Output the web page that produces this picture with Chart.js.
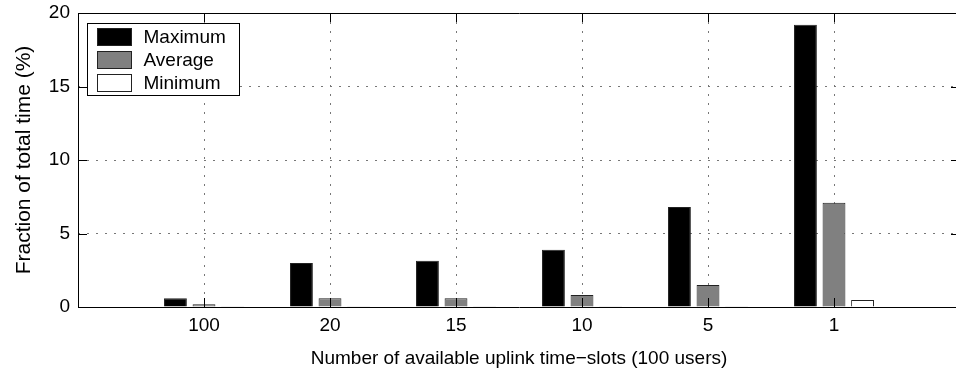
<!DOCTYPE html>
<html>
<head>
<meta charset="utf-8">
<script src="https://cdn.jsdelivr.net/npm/chart.js@4/dist/chart.umd.min.js"></script>
<style>
  html, body { margin: 0; padding: 0; background: #fff; overflow: hidden; }
  #wrap { width: 960px; height: 377px; }
</style>
</head>
<body>
<div id="wrap"><canvas id="slots" width="960" height="377"></canvas></div>
<script>
const slotCounts = ['100', '20', '15', '10', '5', '1'];
const maxShare = [0.6, 3.0, 3.15, 3.9, 6.8, 19.2];
const avgShare = [0.18, 0.6, 0.6, 0.82, 1.5, 7.1];
const minShare = [0.05, 0.05, 0.05, 0.05, 0.05, 0.48];
const seriesNames = ['Maximum', 'Average', 'Minimum'];
const yTicks = [0, 5, 10, 15, 20];

const FONT = '"Liberation Sans", Arial, Helvetica, sans-serif';

// empty slot on each side so the groups sit one step in from the frame
const labels = [''].concat(slotCounts, ['']);
const pad = arr => [null].concat(arr, [null]);

// box with inward tick marks, drawn over the bars
const frame = {
  id: 'frame',
  afterDatasetsDraw(chart) {
    const { ctx, chartArea: a, scales: { x, y } } = chart;
    const tl = 9;
    ctx.save();
    ctx.strokeStyle = '#000';
    ctx.lineWidth = 1;
    ctx.beginPath();
    ctx.rect(Math.round(a.left) + 0.5, Math.round(a.top) + 0.5,
      Math.round(a.right - a.left), Math.round(a.bottom - a.top));
    yTicks.forEach(v => {
      const py = Math.round(y.getPixelForValue(v)) + 0.5;
      ctx.moveTo(a.left, py); ctx.lineTo(a.left + tl, py);
      ctx.moveTo(a.right, py); ctx.lineTo(a.right - tl, py);
    });
    slotCounts.forEach((c, i) => {
      const px = Math.round(x.getPixelForValue(i + 1)) + 0.5;
      ctx.moveTo(px, a.bottom); ctx.lineTo(px, a.bottom - tl);
      ctx.moveTo(px, a.top); ctx.lineTo(px, a.top + tl);
    });
    ctx.stroke();
    ctx.restore();
  }
};

// legend box in the upper left corner of the plot
const boxLegend = {
  id: 'boxLegend',
  afterDraw(chart) {
    const { ctx, chartArea: a } = chart;
    const bx = a.left + 9.5, by = a.top + 10.5, bw = 152, bh = 72;
    ctx.save();
    ctx.fillStyle = '#fff';
    ctx.fillRect(bx, by, bw, bh);
    ctx.strokeStyle = '#000';
    ctx.lineWidth = 1;
    ctx.strokeRect(bx, by, bw, bh);
    ctx.font = '19px ' + FONT;
    ctx.textBaseline = 'middle';
    chart.data.datasets.forEach((ds, i) => {
      const ry = by + 5 + i * 23;
      ctx.fillStyle = ds.backgroundColor;
      ctx.fillRect(bx + 10, ry, 34, 17);
      ctx.strokeStyle = ds.borderColor;
      ctx.strokeRect(bx + 10, ry, 34, 17);
      ctx.fillStyle = '#000';
      ctx.fillText(ds.label, bx + 56, ry + 9);
    });
    ctx.restore();
  }
};

new Chart(document.getElementById('slots'), {
  type: 'bar',
  data: {
    labels: labels,
    datasets: [
      { label: seriesNames[0], data: pad(maxShare), backgroundColor: '#000000', borderColor: '#222', borderWidth: 1 },
      { label: seriesNames[1], data: pad(avgShare), backgroundColor: '#808080', borderColor: '#222', borderWidth: 1 },
      { label: seriesNames[2], data: pad(minShare), backgroundColor: '#ffffff', borderColor: '#222', borderWidth: 1 },
    ],
  },
  options: {
    responsive: false,
    animation: false,
    devicePixelRatio: 1,
    categoryPercentage: 0.68,
    barPercentage: 0.8,
    layout: { padding: { top: 13, right: 0, left: 0, bottom: 0 } },
    plugins: {
      legend: { display: false },
      tooltip: { enabled: false },
    },
    scales: {
      x: {
        offset: false,
        afterFit: s => { s.height = 70; s.paddingLeft = 0; s.paddingRight = 0; },
        grid: {
          offset: false,
          drawTicks: false,
          color: c => (c.index === 0 || c.index === labels.length - 1) ? 'rgba(0,0,0,0)' : '#777',
        },
        border: { display: false, dash: [2, 7] },
        ticks: { color: '#000', font: { family: FONT, size: 19 }, padding: 7, autoSkip: false, maxRotation: 0 },
        title: {
          display: true,
          text: 'Number of available uplink time\u2212slots (100 users)',
          color: '#000',
          font: { family: FONT, size: 19 },
          padding: { top: 0, bottom: 7 },
        },
      },
      y: {
        min: 0,
        max: 20,
        afterFit: s => { s.width = 78; s.paddingTop = 0; s.paddingBottom = 0; },
        afterBuildTicks: s => { s.ticks = yTicks.map(v => ({ value: v })); },
        grid: {
          drawTicks: false,
          color: c => (c.tick && (c.tick.value === 0 || c.tick.value === 20)) ? 'rgba(0,0,0,0)' : '#777',
        },
        border: { display: false, dash: [2, 7] },
        ticks: { color: '#000', font: { family: FONT, size: 19 }, padding: 8 },
        title: {
          display: true,
          text: 'Fraction of total time (%)',
          color: '#000',
          font: { family: FONT, size: 21 },
          padding: { top: 12, bottom: 0 },
        },
      },
    },
  },
  plugins: [frame, boxLegend],
});
</script>
</body>
</html>
